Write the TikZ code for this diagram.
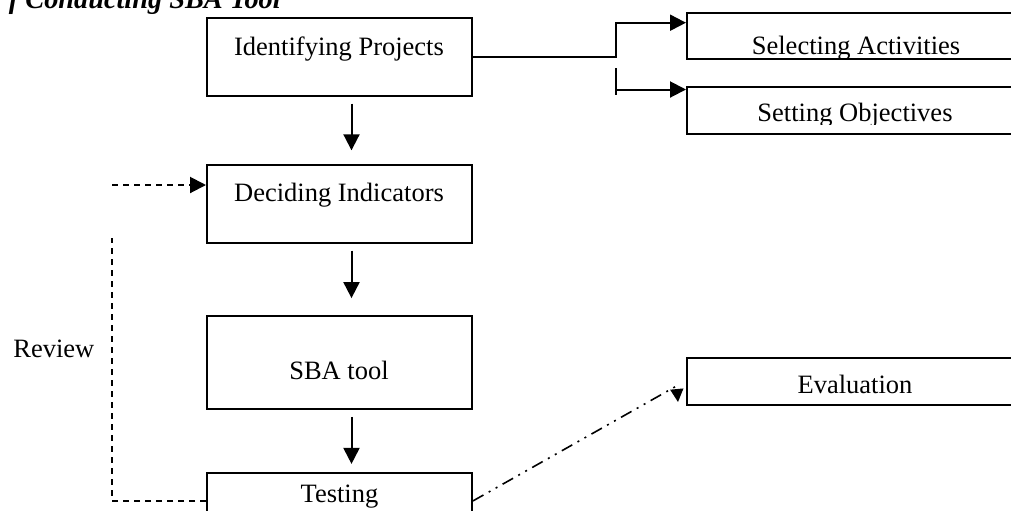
\documentclass[tikz,border=0pt]{standalone}
\usepackage{fontspec}
\setmainfont{Liberation Serif}
\usetikzlibrary{positioning}
\usetikzlibrary{calc}
\usetikzlibrary{arrows.meta}
\tikzset{box/.style={rectangle,draw,line width=1pt,inner sep=0pt,
minimum width=132.5pt, minimum height=38.7pt},
side/.style={box,minimum width=169pt,minimum height=23.2pt},
lbl/.style={inner sep=0pt, anchor=base},
flow/.style={->,line width=1pt,shorten <=3.5pt},
back/.style={line width=1pt,dash pattern=on 3pt off 2.5pt},
ddot/.style={line width=0.8pt,dash pattern=on 6pt off 3pt on 1pt off 3pt on 1pt off 3pt},
>={Triangle[length=8pt,width=8pt]}}

\begin{document}
\begin{tikzpicture}[x=0.5pt,y=-0.5pt,font=\fontsize{13.25}{15}\selectfont]
  \useasboundingbox (0,0) rectangle (1011,510);
  \clip (0,0) rectangle (1011,510);

  % main column
  \node (ident) [box] at (339.5,57) {};
  \node (decide) [box, below=33.8pt of ident] {};
  \node (sba) [box, minimum height=46.6pt, below=35.5pt of decide] {};
  \node (test) [box, minimum height=28pt, below=31pt of sba] {};

  % right column
  \node (selact) [side] at (856,35.9) {};
  \node (setobj) [side, below=13pt of selact] {};
  \node (evalu) [side] at (856,381.3) {};

  \node (identtxt) [lbl] at (339,55) {Identifying Projects};
  \node (decidetxt) [lbl] at (339,201.7) {Deciding Indicators};
  \node (sbatxt) [lbl] at (339,379) {SBA tool};
  \node (testtxt) [lbl] at (339.5,502) {Testing};
  \node (evalutxt) [lbl] at (855,393.3) {Evaluation};
  \begin{scope}
    \clip (selact.north west) rectangle ($(selact.south east)+(0,-3)$);
    \node (selacttxt) [lbl] at (856,54) {Selecting Activities};
  \end{scope}
  \begin{scope}
    \clip (setobj.north west) rectangle ($(setobj.south east)+(0,-10)$);
    \node (setobjtxt) [lbl] at (855,121) {Setting Objectives};
  \end{scope}

  \node (revlbl) [lbl, anchor=base west] at (13,357) {Review};
  \node (title) [lbl, anchor=base west,
    font=\bfseries\itshape\fontsize{14.15}{16}\selectfont] at (8.5,8)
    {f Conducting SBA Tool};

  % arrows down the column
  \draw [flow, shorten >=7pt] ([xshift=6pt]ident.south) -- ([xshift=6pt]decide.north);
  \draw [flow, shorten >=8.3pt] ([xshift=6pt]decide.south) -- ([xshift=6pt]sba.north);
  \draw [flow, shorten >=4pt] ([xshift=6pt]sba.south) -- ([xshift=6pt]test.north);

  % fork to the right
  \coordinate (forktop) at (616,22.7);
  \coordinate (forkbot) at (616,68);
  \coordinate (forkmid) at (616,89.5);
  \coordinate (forkend) at (616,95);
  \draw [->, line width=1pt] (ident.east) -| (forktop) -- (forktop -| selact.west);
  \draw [line width=1pt] (forkbot) -- (forkend);
  \draw [->, line width=1pt] (forkmid) -- (forkmid -| setobj.west);

  % evaluation
  \coordinate (evkink) at (676.5,386);
  \coordinate (evtip) at (678,402);
  \draw [ddot, ->, >={Triangle[length=6.5pt,width=6.5pt]}] (test.east) -- (evkink) -- (evtip);

  % review loop
  \coordinate (revtop) at (112,238);
  \coordinate (revin) at (112,185);
  \draw [back] (test.west) -| (revtop);
  \draw [back, ->] (revin) -- (revin -| decide.west);
\end{tikzpicture}
\end{document}
